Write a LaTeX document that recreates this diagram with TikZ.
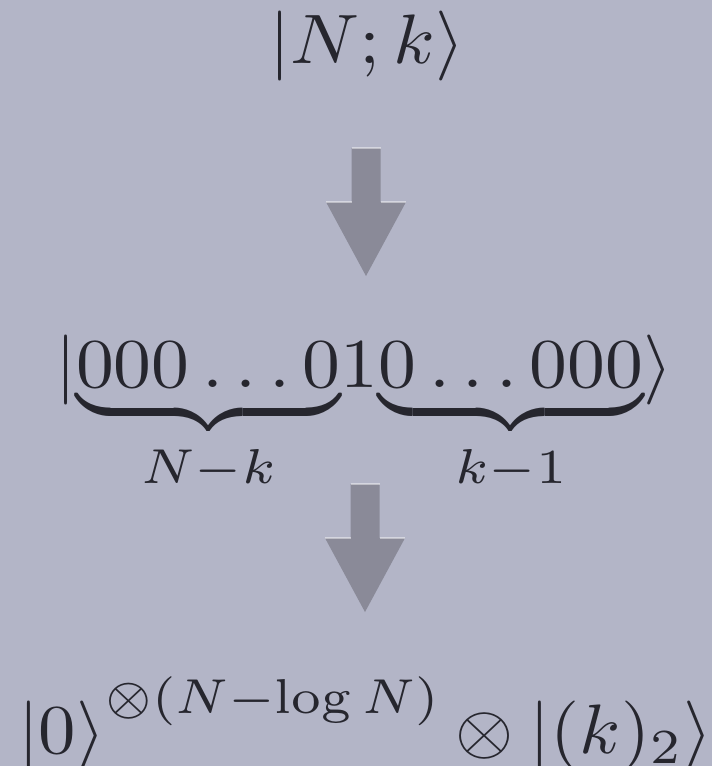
\documentclass[tikz,border=0pt]{standalone}
\usepackage{amsmath}
\usepackage{graphicx}
\definecolor{bg}{HTML}{B3B5C7}
\definecolor{ink}{HTML}{26262E}
\definecolor{arrowgrey}{HTML}{8A8A98}
\tikzset{
  formula/.style={anchor=base west, inner sep=0pt, text=ink, font=\normalsize},
  blockarrow/.pic={
    \fill[arrowgrey] (-14.5,0) -- (14.5,0) -- (14.5,54) -- (40,54) -- (0,128)
      -- (-40,54) -- (-14.5,54) -- cycle;
    \draw[white, opacity=0.45, line width=1.2pt]
      (-14.5,0) -- (14.5,0) (-40,54) -- (-14.5,54) (14.5,54) -- (40,54);
  }
}
\newcommand{\wide}[1]{\scalebox{7.56}[7]{#1}}
\newcommand{\widebot}[1]{\scalebox{7.47}[7]{#1}}
\begin{document}
\begin{tikzpicture}[x=1pt,y=-1pt]
\fill[bg] (0,0) rectangle (712,766);
\useasboundingbox (0,0) rectangle (712,766);
\clip (0,0) rectangle (712,766);
\node[formula] (top) at (269.5,63) {\wide{$|N;k\rangle$}};
\pic at (366,148) {blockarrow};
\node[formula] (mid) at (55,387)
  {\wide{$\displaystyle|{\underbrace{000\ldots0}_{N-k}}1{\underbrace{0\ldots000}_{k-1}}\rangle$}};
\pic at (365,484) {blockarrow};
\node[formula] (bot) at (18,753)
  {\widebot{$|0\rangle\raisebox{5.7pt}{$\scriptstyle\otimes(N-\log N)$}\otimes|(k)_2\rangle$}};
\end{tikzpicture}
\end{document}
